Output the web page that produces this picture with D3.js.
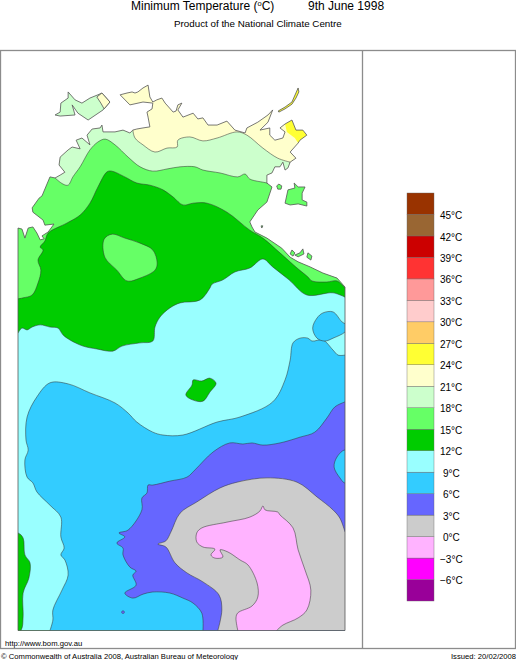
<!DOCTYPE html>
<html>
<head>
<meta charset="utf-8">
<script src="https://cdn.jsdelivr.net/npm/d3@7"></script>
<style>
  html, body { margin: 0; padding: 0; background: #fff; }
  svg { display: block; }
  text { font-family: "Liberation Sans", Arial, sans-serif; fill: #000; }
</style>
</head>
<body>
<div id="chart"></div>
<script>
// temperature bands, coldest first
var bandBreaks = [-6, -3, 0, 3, 6, 9, 12, 15, 18, 21, 24, 27, 30, 33, 36, 39, 42, 45];
var bandColours = ['#990099', '#ff00ff', '#ffb3ff', '#cccccc', '#6666ff', '#33ccff', '#99ffff', '#00cc00', '#66ff66',
  '#ccffcc', '#ffffcc', '#ffff33', '#ffcc66', '#ffcccc', '#ff9999', '#ff3333', '#cc0000', '#996633', '#993300'];
var legendRange = [-9, 48];

// all outlines are [lon, lat]
var mainlandCoast = [[129.00,-14.82],[129.11,-14.85],[129.19,-15.10],[129.28,-14.82],[129.41,-14.79],[129.52,-14.96],[129.61,-15.15],[129.72,-15.12],[129.66,-15.04],[129.83,-14.93],[129.99,-14.71],[129.74,-14.74],[129.69,-14.60],[129.41,-14.38],[129.39,-14.26],[129.58,-13.99],[129.66,-13.93],[129.88,-13.40],[130.02,-13.43],[130.16,-13.35],[130.29,-13.27],[130.13,-13.07],[130.16,-12.85],[130.38,-12.65],[130.49,-12.57],[130.71,-12.62],[130.60,-12.38],[130.76,-12.32],[130.98,-12.51],[130.90,-12.24],[131.04,-12.07],[131.26,-12.04],[131.31,-11.96],[131.34,-12.15],[131.67,-12.15],[131.89,-12.10],[132.08,-12.18],[132.16,-12.10],[132.27,-12.07],[132.44,-12.04],[132.63,-12.01],[132.58,-11.74],[132.55,-11.60],[132.69,-11.51],[132.71,-11.35],[132.44,-11.32],[132.08,-11.40],[131.81,-11.12],[132.00,-11.07],[132.14,-11.04],[132.22,-11.07],[132.30,-11.04],[132.44,-10.93],[132.58,-10.85],[132.63,-11.18],[132.71,-11.32],[132.82,-11.26],[132.96,-11.21],[133.05,-11.35],[133.27,-11.60],[133.35,-11.57],[133.40,-11.40],[133.51,-11.35],[133.40,-11.54],[133.54,-11.74],[133.82,-11.63],[133.95,-11.79],[134.09,-11.76],[134.23,-11.96],[134.48,-11.96],[134.75,-11.85],[134.97,-12.10],[135.25,-12.18],[135.30,-12.04],[135.60,-11.88],[135.88,-11.68],[136.01,-11.54],[135.88,-11.88],[135.66,-12.10],[135.93,-12.04],[135.93,-12.24],[136.07,-12.38],[136.29,-12.32],[136.35,-12.15],[136.21,-12.04],[136.35,-11.93],[136.54,-11.82],[136.65,-12.10],[136.84,-12.10],[136.95,-12.24],[136.76,-12.38],[136.71,-12.46],[136.49,-12.71],[136.65,-12.88],[136.49,-12.99],[136.43,-13.15],[136.35,-13.21],[136.29,-12.99],[136.21,-13.12],[136.07,-13.12],[135.99,-13.29],[135.85,-13.35],[135.85,-13.57],[135.99,-13.68],[135.85,-14.10],[135.60,-14.32],[135.38,-14.65],[135.44,-14.79],[135.52,-14.93],[135.85,-15.10],[136.26,-15.38],[136.49,-15.63],[136.71,-15.76],[137.04,-15.90],[137.39,-16.07],[137.78,-16.21],[138.00,-16.46],[138.00,-26.00],[129.00,-26.00]];
var tiwiCoast = [[130.02,-11.68],[130.16,-11.60],[130.18,-11.35],[130.38,-11.21],[130.38,-11.04],[130.57,-11.26],[130.76,-11.35],[130.98,-11.21],[131.20,-11.12],[131.31,-11.07],[131.53,-11.32],[131.34,-11.54],[130.93,-11.82],[130.65,-11.63],[130.49,-11.40],[130.57,-11.68],[130.16,-11.71]];
var tiwiEast = [[131.17,-11.18],[131.31,-11.07],[131.53,-11.32],[131.37,-11.51],[131.28,-11.35]];
var elchoCoast = [[136.16,-11.57],[136.35,-11.46],[136.54,-11.32],[136.71,-10.93],[136.73,-11.04],[136.65,-11.21],[136.54,-11.38],[136.35,-11.51],[136.18,-11.60]];
var grooteCoast = [[136.35,-14.13],[136.43,-13.76],[136.62,-13.71],[136.60,-13.57],[136.71,-13.68],[136.90,-13.68],[136.82,-13.85],[136.82,-14.04],[136.95,-14.10],[136.95,-14.21],[136.71,-14.15],[136.49,-14.18]];
var smallIslands = [
  [[136.12,-13.65],[136.18,-13.60],[136.26,-13.65],[136.24,-13.74],[136.15,-13.74]],
  [[135.69,-14.76],[135.74,-14.76],[135.71,-14.82]],
  [[136.54,-15.43],[136.62,-15.51],[136.57,-15.60],[136.49,-15.54]],
  [[136.84,-15.40],[136.87,-15.54],[136.71,-15.62],[136.62,-15.57],[136.76,-15.51]],
  [[136.98,-15.51],[137.09,-15.60],[137.06,-15.71],[136.95,-15.63]]
];

// contour lines, each with the points that close it round the cold side
var line21 = [[132.16,-12.10],[132.22,-12.32],[132.44,-12.51],[132.77,-12.71],[133.10,-12.60],[133.38,-12.57],[133.40,-12.38],[133.73,-12.29],[134.09,-12.40],[134.48,-12.32],[135.03,-12.15],[135.30,-12.24],[135.74,-12.60],[136.15,-12.88],[136.49,-12.99]];
var close21 = [[136.54,-13.35],[140,-13.35],[140,-28],[127,-28],[127,-11.72],[132.16,-11.72]];
var line18 = [[130.02,-13.43],[130.24,-13.60],[130.38,-13.63],[130.51,-13.40],[130.71,-13.12],[130.98,-12.65],[131.20,-12.43],[131.40,-12.35],[131.67,-12.51],[132.03,-12.85],[132.36,-13.12],[132.71,-13.24],[133.10,-13.18],[133.46,-13.12],[133.87,-13.12],[134.09,-13.21],[134.56,-13.29],[135.05,-13.40],[135.25,-13.32],[135.38,-13.46],[135.93,-13.60],[135.99,-13.68]];
var close18 = [[140,-13.68],[140,-28],[127,-28],[127,-13.2],[129.88,-13.2]];
var line15 = [[129.00,-16.79],[129.14,-16.76],[129.39,-16.68],[129.55,-16.35],[129.63,-15.99],[129.55,-15.71],[129.69,-15.43],[129.61,-15.35],[129.74,-15.18],[129.83,-14.96],[130.35,-14.68],[130.71,-14.46],[130.98,-14.13],[131.20,-13.68],[131.45,-13.26],[131.58,-13.24],[131.94,-13.40],[132.27,-13.57],[132.63,-13.63],[132.99,-13.76],[133.27,-13.96],[133.54,-14.18],[133.82,-14.13],[134.20,-14.13],[134.75,-14.38],[135.38,-14.88],[135.74,-15.10],[136.21,-15.51],[136.68,-15.93],[136.98,-16.18],[137.09,-16.29],[137.50,-16.32],[137.78,-16.29],[138.00,-16.49]];
var close15 = [[140,-16.49],[140,-28],[127,-28],[127,-16.79]];
var line12 = [[129.00,-17.74],[129.11,-17.60],[129.25,-17.65],[129.39,-17.57],[129.61,-17.51],[129.88,-17.57],[130.10,-17.60],[130.24,-17.79],[130.43,-17.93],[130.79,-18.10],[131.17,-18.18],[131.61,-18.24],[131.86,-18.10],[132.36,-18.01],[132.71,-17.96],[132.77,-17.57],[132.91,-17.29],[133.18,-17.04],[133.46,-16.90],[134.01,-16.82],[134.28,-16.49],[134.34,-16.38],[134.64,-16.26],[134.97,-16.04],[135.38,-15.93],[135.74,-15.68],[136.01,-15.90],[136.46,-16.26],[136.95,-16.68],[137.67,-16.62],[138.00,-16.74]];
var close12 = [[140,-16.74],[140,-28],[127,-28],[127,-17.74]];
var line9 = [[129.88,-26.00],[129.96,-25.71],[129.96,-25.43],[130.21,-24.88],[130.38,-24.46],[130.29,-24.04],[130.18,-23.90],[130.27,-23.71],[130.18,-23.40],[130.18,-22.85],[129.88,-22.52],[129.52,-22.15],[129.41,-21.90],[129.25,-21.74],[129.19,-21.26],[129.28,-20.99],[129.22,-20.71],[129.25,-20.07],[129.52,-19.51],[129.88,-19.12],[130.38,-19.15],[130.98,-19.40],[131.67,-19.68],[132.03,-19.96],[132.27,-20.21],[132.71,-20.49],[132.99,-20.57],[133.54,-20.57],[134.48,-20.21],[135.11,-20.07],[136.01,-19.65],[136.35,-19.04],[136.49,-18.49],[136.57,-18.01],[136.76,-17.88],[136.98,-17.88],[137.09,-17.96],[137.39,-17.93],[137.67,-18.21],[137.81,-18.35],[138.00,-18.35]];
var close9 = [[140,-18.35],[140,-28],[129.88,-28]];
var line6 = [[138.00,-19.65],[137.72,-19.79],[137.50,-20.10],[137.17,-20.49],[136.76,-20.63],[136.21,-20.79],[135.74,-20.85],[135.44,-20.79],[135.19,-20.82],[134.83,-20.79],[134.37,-21.04],[133.87,-21.54],[133.65,-21.74],[133.18,-21.85],[132.71,-21.96],[132.58,-21.96],[132.55,-22.18],[132.41,-22.32],[132.41,-22.65],[132.03,-23.21],[131.78,-23.29],[131.94,-23.40],[131.72,-23.57],[131.89,-23.71],[131.89,-23.90],[132.08,-24.24],[132.25,-24.35],[132.16,-24.46],[132.25,-24.74],[131.94,-24.96],[132.16,-25.10],[132.44,-24.99],[132.71,-24.93],[133.18,-24.96],[133.54,-25.10],[133.82,-25.24],[134.06,-25.52],[134.09,-26.00]];
var close6 = [[134.09,-28],[140,-28],[140,-19.65]];
var line3 = [[134.50,-26.00],[134.61,-25.43],[134.53,-25.01],[134.09,-24.65],[133.65,-24.40],[133.32,-24.12],[133.07,-23.68],[132.85,-23.60],[133.07,-23.51],[133.21,-23.26],[133.46,-22.74],[133.92,-22.43],[134.56,-22.04],[135.03,-21.88],[135.85,-21.76],[136.68,-21.88],[137.23,-22.29],[137.67,-22.65],[137.86,-22.88],[138.00,-23.26]];
var close3 = [[140,-23.26],[140,-28],[134.50,-28]];
var line0 = [[135.05,-26.00],[135.00,-25.65],[135.05,-25.51],[135.44,-25.32],[135.60,-25.07],[135.58,-24.68],[135.33,-24.18],[135.11,-24.04],[134.78,-23.82],[134.56,-23.76],[134.64,-23.96],[134.42,-23.99],[134.31,-23.90],[134.42,-23.74],[134.09,-23.68],[133.92,-23.54],[133.92,-23.29],[134.06,-23.15],[134.75,-22.99],[135.38,-22.85],[135.66,-22.68],[135.74,-22.54],[135.80,-22.65],[136.15,-22.71],[136.21,-22.79],[136.57,-23.15],[136.71,-23.76],[136.90,-24.32],[137.06,-24.88],[136.95,-25.43],[136.71,-25.65],[136.29,-25.85],[136.12,-26.00]];
var close0 = [[136.12,-28],[135.05,-28]];

// closed pockets inside a band
var pocketWarm15 = [[131.59,-14.99],[131.37,-15.13],[131.39,-15.63],[131.72,-15.99],[132.00,-16.29],[132.36,-16.21],[132.77,-15.99],[132.83,-15.79],[132.71,-15.43],[132.36,-15.24],[131.94,-15.10]];
var pocketWarm12 = [[133.82,-19.04],[134.06,-19.07],[134.28,-18.99],[134.45,-19.13],[134.28,-19.38],[134.09,-19.63],[133.82,-19.60],[133.62,-19.46],[133.79,-19.18]];
var pocketWest12 = [[129.00,-23.29],[129.14,-23.43],[129.19,-23.90],[129.33,-24.12],[129.30,-24.54],[129.14,-24.96],[129.14,-25.63],[129.08,-26.00],[128.5,-26.5],[128.5,-23.29]];
var pocketCool9 = [[137.11,-17.60],[137.23,-17.32],[137.39,-17.18],[137.67,-17.15],[137.92,-17.43],[138.10,-17.55],[138.00,-17.71],[137.67,-17.88],[137.45,-17.96],[137.23,-17.88]];
var pocketEast6 = [[138.00,-20.99],[137.78,-21.18],[137.70,-21.46],[137.86,-21.76],[138.00,-21.90],[138.20,-21.40]];
var gove24 = [[136.35,-11.93],[136.54,-11.82],[136.65,-12.10],[136.84,-12.10],[136.95,-12.24],[136.76,-12.38],[136.71,-12.46],[136.62,-12.32],[136.40,-12.15]];
var spotCold = [131.89, -25.49];

var legendLabels = ['45°C', '42°C', '39°C', '36°C', '33°C', '30°C', '27°C', '24°C', '21°C', '18°C', '15°C', '12°C', '9°C', '6°C', '3°C', '0°C', '−3°C', '−6°C'];

var width = 516, height = 660;
var svg = d3.select('#chart').append('svg').attr('width', width).attr('height', height);

var x = d3.scaleLinear().domain([129, 138]).range([18, 345]);
var y = d3.scaleLinear().domain([-11, -26]).range([90.5, 630.5]);
var bandColour = d3.scaleThreshold().domain(bandBreaks).range(bandColours);
var legendY = d3.scaleLinear().domain(legendRange).range([601, 193]);

var straight = d3.line().x(function (d) { return x(d[0]); }).y(function (d) { return y(d[1]); });
var smooth = d3.line().x(function (d) { return x(d[0]); }).y(function (d) { return y(d[1]); }).curve(d3.curveCatmullRom);
var smoothClosed = d3.line().x(function (d) { return x(d[0]); }).y(function (d) { return y(d[1]); }).curve(d3.curveCatmullRomClosed);

svg.append('clipPath').attr('id', 'land').append('path').attr('d', straight(mainlandCoast) + 'Z');

// land base is the warmest band on the map
svg.append('path').attr('d', straight(mainlandCoast) + 'Z').attr('fill', bandColour(22));

var map = svg.append('g').attr('clip-path', 'url(#land)');

function band(line, closure, temp) {
  var d = smooth(line) + 'L' + straight(closure).slice(1) + 'Z';
  map.append('path').attr('d', d)
    .attr('fill', bandColour(temp)).attr('stroke', '#333').attr('stroke-width', 0.7).attr('stroke-opacity', 0.75);
}
function pocket(points, temp) {
  map.append('path').attr('d', smoothClosed(points))
    .attr('fill', bandColour(temp)).attr('stroke', '#333').attr('stroke-width', 0.7).attr('stroke-opacity', 0.75);
}

band(line21, close21, 19);
band(line18, close18, 16);
band(line15, close15, 13);
pocket(pocketWarm15, 16);
band(line12, close12, 10);
pocket(pocketWarm12, 13);
pocket(pocketWest12, 13);
band(line9, close9, 7);
pocket(pocketCool9, 7);
band(line6, close6, 4);
pocket(pocketEast6, 7);
band(line3, close3, 1);
band(line0, close0, -1);
map.append('path').attr('d', straight(gove24) + 'Z').attr('fill', bandColour(25));
map.append('circle').attr('cx', x(spotCold[0])).attr('cy', y(spotCold[1])).attr('r', 1.4).attr('fill', bandColour(4)).attr('stroke', '#333').attr('stroke-width', 0.4);

// coast on top
var coastStroke = '#555';
svg.append('path').attr('d', straight(mainlandCoast) + 'Z').attr('fill', 'none').attr('stroke', coastStroke).attr('stroke-width', 0.8);

function island(points, temp) {
  svg.append('path').attr('d', straight(points) + 'Z')
    .attr('fill', bandColour(temp)).attr('stroke', coastStroke).attr('stroke-width', 0.8);
}
island(tiwiCoast, 19);
island(tiwiEast, 22);
island(elchoCoast, 25);
island(grooteCoast, 16);
smallIslands.forEach(function (s) { island(s, 16); });

// frame
var frameColour = '#8c8c8c';
svg.append('rect').attr('x', 0.5).attr('y', 50.5).attr('width', 515).attr('height', 598)
  .attr('fill', 'none').attr('stroke', frameColour).attr('stroke-width', 1.3);
svg.append('line').attr('x1', 362.5).attr('x2', 362.5).attr('y1', 50.5).attr('y2', 648.5)
  .attr('stroke', frameColour).attr('stroke-width', 1.3);

// legend
var legendBands = d3.range(bandColours.length);
svg.append('g').selectAll('rect').data(legendBands).enter().append('rect')
  .attr('x', 407).attr('width', 27)
  .attr('y', function (i) { return legendY(legendRange[0] + 3 * (i + 1)); })
  .attr('height', function (i) { return legendY(legendRange[0] + 3 * i) - legendY(legendRange[0] + 3 * (i + 1)); })
  .attr('fill', function (i) { return bandColours[i]; })
  .attr('stroke', '#666').attr('stroke-width', 0.4);

svg.append('g').selectAll('text').data(legendLabels).enter().append('text')
  .attr('x', function (d) { return d.charAt(0) === '−' ? 440 : (d.length < 4 ? 443 : 440); })
  .attr('y', function (d, i) { return legendY(45 - 3 * i) + 4.6; })
  .attr('font-size', 10)
  .text(function (d) { return d; });

// titles
var title = svg.append('text').attr('x', 131).attr('y', 10).attr('font-size', 12);
title.append('tspan').text('Minimum Temperature (');
title.append('tspan').attr('font-size', 7.5).attr('dy', -4).text('o');
title.append('tspan').attr('dy', 4).text('C)');
svg.append('text').attr('x', 308).attr('y', 10).attr('font-size', 12).text('9th June 1998');
svg.append('text').attr('x', 174).attr('y', 27).attr('font-size', 9.8).text('Product of the National Climate Centre');
svg.append('text').attr('x', 5).attr('y', 645.5).attr('font-size', 7.7).text('http://www.bom.gov.au');
svg.append('text').attr('x', 1).attr('y', 658.5).attr('font-size', 7.65).text('© Commonwealth of Australia 2008, Australian Bureau of Meteorology');
svg.append('text').attr('x', 451).attr('y', 658.5).attr('font-size', 7.65).text('Issued: 20/02/2008');
</script>
</body>
</html>
